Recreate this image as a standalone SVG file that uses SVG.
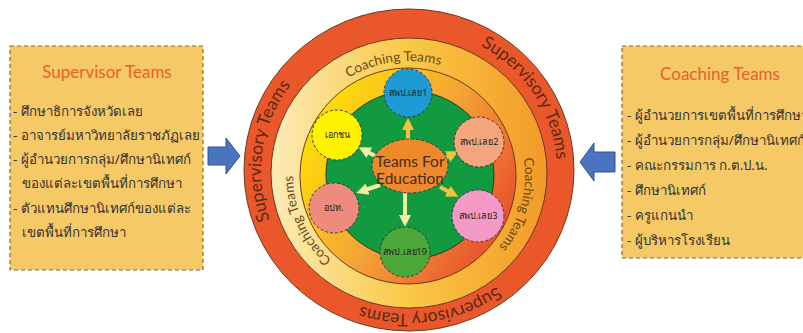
<svg xmlns="http://www.w3.org/2000/svg" width="803" height="333" viewBox="0 0 803 333">
<defs>
<linearGradient id="coachGrad" x1="0" y1="0" x2="1" y2="0">
<stop offset="0" stop-color="#FCEBB6"/>
<stop offset="0.5" stop-color="#F9C845"/>
<stop offset="1" stop-color="#F39A28"/>
</linearGradient>
<linearGradient id="innerGrad" x1="0" y1="0.2" x2="1" y2="0.8">
<stop offset="0" stop-color="#FFE600"/>
<stop offset="0.5" stop-color="#F4A537"/>
<stop offset="1" stop-color="#E8442C"/>
</linearGradient>
<marker id="ahPale" viewBox="0 0 10 10" refX="5" refY="5" markerWidth="3" markerHeight="3" orient="auto"><path d="M0,0 L10,5 L0,10 z" fill="#F2EBA0"/></marker>
<marker id="ahGold" viewBox="0 0 10 10" refX="5" refY="5" markerWidth="3" markerHeight="3" orient="auto"><path d="M0,0 L10,5 L0,10 z" fill="#F5C23E"/></marker>
<path id="outerPath" d="M409,314 A148,143 0 1,1 409,28 A148,143 0 1,1 409,314 A148,143 0 1,1 409,28 A148,143 0 1,1 409,314"/>
<path id="coachPath" d="M409,289 A116,114 0 1,1 409,61 A116,114 0 1,1 409,289 A116,114 0 1,1 409,61 A116,114 0 1,1 409,289"/>
</defs>
<style>
.box{fill:#F6C967;stroke:#7d6a45;stroke-width:1.2;stroke-dasharray:4 3}
.title{font-family:Lato,"Open Sans",sans-serif;font-size:17px;fill:#E8602C;text-anchor:middle}
.item{font-family:Tahoma,"Noto Sans","DejaVu Sans",sans-serif;font-size:13.3px;fill:#333}
.node{stroke:#3a3a3a;stroke-width:1;stroke-dasharray:3 2}
.nlabel{font-family:Tahoma,"Noto Sans","DejaVu Sans",sans-serif;font-size:9px;fill:#222;text-anchor:middle}
.ring{stroke:#6b3a20;stroke-width:1}
.sup{font-family:Lato,"Open Sans",sans-serif;font-size:17.5px;fill:#5C2A12}
.coach{font-family:Lato,"Open Sans",sans-serif;font-size:13.5px;fill:#6B4A1A}
.conn{stroke-width:4;fill:none}
.blue{fill:#4A74C0;stroke:#2F528F;stroke-width:1}
</style>

<g id="supervisor-box">
<rect class="box" x="10" y="46" width="193" height="224"/>
<text class="title" x="107" y="78">Supervisor Teams</text>
<text class="item" x="13" y="116">- ศึกษาธิการจังหวัดเลย</text>
<text class="item" x="13" y="140">- อาจารย์มหาวิทยาลัยราชภัฏเลย</text>
<text class="item" x="13" y="164">- ผู้อำนวยการกลุ่ม/ศึกษานิเทศก์</text>
<text class="item" x="22" y="188">ของแต่ละเขตพื้นที่การศึกษา</text>
<text class="item" x="13" y="213">- ตัวแทนศึกษานิเทศก์ของแต่ละ</text>
<text class="item" x="22" y="237">เขตพื้นที่การศึกษา</text>
</g>

<g id="coaching-box">
<rect class="box" x="622" y="46" width="190" height="212"/>
<text class="title" x="720" y="80">Coaching Teams</text>
<text class="item" x="627" y="120">- ผู้อำนวยการเขตพื้นที่การศึกษา</text>
<text class="item" x="627" y="145">- ผู้อำนวยการกลุ่ม/ศึกษานิเทศก์</text>
<text class="item" x="627" y="170">- คณะกรรมการ ก.ต.ป.น.</text>
<text class="item" x="627" y="195">- ศึกษานิเทศก์</text>
<text class="item" x="627" y="220">- ครูแกนนำ</text>
<text class="item" x="627" y="245">- ผู้บริหารโรงเรียน</text>
</g>

<g id="supervisory-ring">
<ellipse class="ring" cx="409" cy="170" rx="165" ry="161" fill="#E9572B"/>
<text class="sup"><textPath href="#outerPath" startOffset="603" text-anchor="middle">Supervisory Teams</textPath></text>
<text class="sup"><textPath href="#outerPath" startOffset="250" text-anchor="middle">Supervisory Teams</textPath></text>
<text class="sup"><textPath href="#outerPath" startOffset="892" text-anchor="middle">Supervisory Teams</textPath></text>
</g>

<g id="coaching-ring">
<ellipse class="ring" cx="409" cy="173" rx="138" ry="135" fill="url(#coachGrad)"/>
<ellipse class="ring" cx="408" cy="176" rx="108" ry="108" fill="url(#innerGrad)"/>
<text class="coach"><textPath href="#coachPath" startOffset="345" text-anchor="middle">Coaching Teams</textPath></text>
<text class="coach"><textPath href="#coachPath" startOffset="132" text-anchor="middle">Coaching Teams</textPath></text>
<text class="coach"><textPath href="#coachPath" startOffset="572" text-anchor="middle">Coaching Teams</textPath></text>
</g>

<g id="green-core">
<circle cx="410" cy="175" r="84" fill="#119A3F" stroke="#2b3a20" stroke-width="1"/>
</g>

<g id="connectors">
<line class="conn" x1="408" y1="142" x2="408" y2="124" stroke="#F5C23E" marker-end="url(#ahGold)"/>
<line class="conn" x1="379" y1="158" x2="364" y2="150" stroke="#F2EBA0" marker-end="url(#ahPale)"/>
<line class="conn" x1="441" y1="160" x2="453" y2="154" stroke="#F5C23E" marker-end="url(#ahGold)"/>
<line class="conn" x1="405" y1="193" x2="405" y2="221" stroke="#F2EBA0" marker-end="url(#ahPale)"/>
<line class="conn" x1="380" y1="185" x2="362" y2="191" stroke="#F2EBA0" marker-end="url(#ahPale)"/>
<line class="conn" x1="440" y1="187" x2="453" y2="194" stroke="#F5C23E" marker-end="url(#ahGold)"/>
<polygon class="blue" points="208,147 226,147 226,138 240,156 226,174 226,165 208,165"/>
<polygon class="blue" points="615,152 594,152 594,143 580,162 594,181 594,172 615,172"/>
</g>

<g id="center">
<ellipse cx="410" cy="166" rx="38" ry="27" fill="#EF8A2C" stroke="#3a3a3a" stroke-width="1" stroke-dasharray="3 2"/>
<text x="410" y="167" font-family="Lato,'Open Sans',sans-serif" font-size="15.5" fill="#4A2A12" text-anchor="middle">Teams For</text>
<text x="410" y="184" font-family="Lato,'Open Sans',sans-serif" font-size="15.5" fill="#4A2A12" text-anchor="middle">Education</text>
</g>

<g id="node-loei1"><circle class="node" cx="408" cy="93" r="24" fill="#1E9BD7"/><text class="nlabel" x="408" y="96">สพป.เลย1</text></g>
<g id="node-private"><circle class="node" cx="337" cy="135" r="25" fill="#FFF200"/><text class="nlabel" x="337" y="138">เอกชน</text></g>
<g id="node-loei2"><circle class="node" cx="479" cy="142" r="25" fill="#F3A67E"/><text class="nlabel" x="479" y="145">สพป.เลย2</text></g>
<g id="node-local"><circle class="node" cx="334" cy="208" r="25" fill="#EF8B7C"/><text class="nlabel" x="334" y="211">อปท.</text></g>
<g id="node-loei3"><circle class="node" cx="478" cy="216" r="26" fill="#F39AC6"/><text class="nlabel" x="478" y="219">สพป.เลย3</text></g>
<g id="node-loei19"><circle class="node" cx="405" cy="252" r="25" fill="#4DA83C"/><text class="nlabel" x="405" y="255">สพป.เลย19</text></g>
</svg>
